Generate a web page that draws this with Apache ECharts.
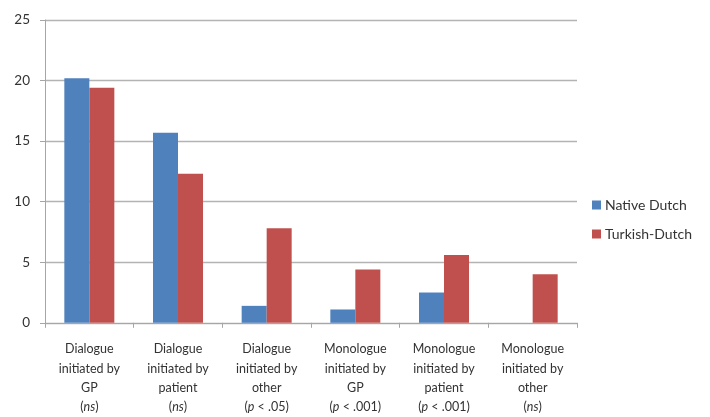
<!DOCTYPE html>
<html>
<head>
<meta charset="utf-8">
<style>
  html, body { margin: 0; padding: 0; background: #ffffff; }
  #chart { width: 710px; height: 417px; }
</style>
<script src="https://cdn.jsdelivr.net/npm/echarts@6/dist/echarts.min.js"></script>
</head>
<body>
<div id="chart"></div>
<script>
// Category labels: lines of text plus the significance note
const categories = [
  ['Dialogue', 'initiated by', 'GP', '{i|ns}'],
  ['Dialogue', 'initiated by', 'patient', '{i|ns}'],
  ['Dialogue', 'initiated by', 'other', '({i|p} < .05)'],
  ['Monologue', 'initiated by', 'GP', '({i|p} < .001)'],
  ['Monologue', 'initiated by', 'patient', '({i|p} < .001)'],
  ['Monologue', 'initiated by', 'other', '{i|ns}']
];
const seriesNames = ['Native Dutch', 'Turkish-Dutch'];
const nativeDutch = [20.2, 15.7, 1.4, 1.1, 2.5, 0];
const turkishDutch = [19.4, 12.3, 7.8, 4.4, 5.6, 4.0];
const yTicks = [0, 5, 10, 15, 20, 25];

const FONT = 'Lato, "Open Sans", sans-serif';
const TEXT = '#333333';

const labels = categories.map(function (lines) {
  const last = lines[3].indexOf('(') === 0 ? lines[3] : '(' + lines[3] + ')';
  return lines.slice(0, 3).concat([last]).join('\n');
});

const chart = echarts.init(document.getElementById('chart'), null, { renderer: 'canvas' });
chart.setOption({
  animation: false,
  backgroundColor: '#ffffff',
  textStyle: { fontFamily: FONT, color: TEXT },
  grid: { left: 45, right: 133, top: 20, bottom: 94, containLabel: false },
  legend: {
    orient: 'vertical',
    left: 587,
    top: 193,
    itemWidth: 9,
    itemHeight: 9,
    itemGap: 15,
    icon: 'rect',
    textStyle: { fontFamily: FONT, fontSize: 14, color: TEXT, padding: [0, 0, 0, -1] },
    data: seriesNames
  },
  xAxis: {
    type: 'category',
    data: labels,
    axisLine: { show: true, lineStyle: { color: '#a6a6a6', width: 1 } },
    axisTick: { show: true, length: 5, alignWithLabel: false, lineStyle: { color: '#a6a6a6' } },
    axisLabel: {
      interval: 0,
      margin: 17,
      fontFamily: FONT,
      fontSize: 12.5,
      lineHeight: 19.3,
      color: TEXT,
      align: 'center',
      rich: {
        i: { fontStyle: 'italic', fontFamily: FONT, fontSize: 12.5, lineHeight: 19.3, color: TEXT }
      }
    },
    splitLine: { show: false }
  },
  yAxis: {
    type: 'value',
    min: yTicks[0],
    max: yTicks[yTicks.length - 1],
    interval: 5,
    axisLine: { show: true, lineStyle: { color: '#a6a6a6', width: 1 } },
    axisTick: { show: true, length: 5, inside: false, lineStyle: { color: '#a6a6a6' } },
    axisLabel: { margin: 15, fontFamily: FONT, fontSize: 13.5, color: TEXT },
    splitLine: { show: true, lineStyle: { color: '#b3b3b3', width: 1.3 } }
  },
  series: [
    {
      name: seriesNames[0],
      type: 'bar',
      data: nativeDutch,
      barGap: '0%',
      barCategoryGap: '43.6%',
      itemStyle: { color: '#4f81bd' }
    },
    {
      name: seriesNames[1],
      type: 'bar',
      data: turkishDutch,
      barGap: '0%',
      barCategoryGap: '43.6%',
      itemStyle: { color: '#c0504d' }
    }
  ]
});
</script>
</body>
</html>
